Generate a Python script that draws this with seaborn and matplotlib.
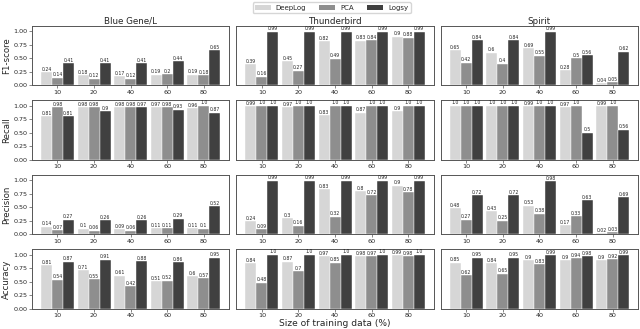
import matplotlib
matplotlib.use("Agg")
import matplotlib.pyplot as plt
from matplotlib.patches import Patch
import seaborn as sns
import pandas as pd

sizes = ["10", "20", "40", "60", "80"]
methods = ["DeepLog", "PCA", "Logsy"]
datasets = ["Blue Gene/L", "Thunderbird", "Spirit"]
metrics = ["F1-score", "Recall", "Precision", "Accuracy"]
colors = ["#d6d6d6", "#8e8e8e", "#404040"]

# Blue Gene/L
bgl_f1_deeplog = [0.24, 0.18, 0.17, 0.19, 0.19]
bgl_f1_pca = [0.14, 0.12, 0.12, 0.2, 0.18]
bgl_f1_logsy = [0.41, 0.41, 0.41, 0.44, 0.65]
bgl_rec_deeplog = [0.81, 0.98, 0.98, 0.97, 0.96]
bgl_rec_pca = [0.98, 0.98, 0.98, 0.98, 1.0]
bgl_rec_logsy = [0.81, 0.9, 0.97, 0.93, 0.87]
bgl_prec_deeplog = [0.14, 0.1, 0.09, 0.11, 0.11]
bgl_prec_pca = [0.07, 0.06, 0.06, 0.11, 0.1]
bgl_prec_logsy = [0.27, 0.26, 0.26, 0.29, 0.52]
bgl_acc_deeplog = [0.81, 0.71, 0.61, 0.51, 0.6]
bgl_acc_pca = [0.54, 0.55, 0.42, 0.52, 0.57]
bgl_acc_logsy = [0.87, 0.91, 0.88, 0.86, 0.95]

# Thunderbird
tb_f1_deeplog = [0.39, 0.45, 0.82, 0.83, 0.9]
tb_f1_pca = [0.16, 0.27, 0.49, 0.84, 0.88]
tb_f1_logsy = [0.99, 0.99, 0.99, 0.99, 0.99]
tb_rec_deeplog = [0.99, 0.97, 0.83, 0.87, 0.9]
tb_rec_pca = [1.0, 1.0, 1.0, 1.0, 1.0]
tb_rec_logsy = [1.0, 1.0, 1.0, 1.0, 1.0]
tb_prec_deeplog = [0.24, 0.3, 0.83, 0.8, 0.9]
tb_prec_pca = [0.09, 0.16, 0.32, 0.72, 0.78]
tb_prec_logsy = [0.99, 0.99, 0.99, 0.99, 0.99]
tb_acc_deeplog = [0.84, 0.87, 0.97, 0.98, 0.99]
tb_acc_pca = [0.48, 0.7, 0.85, 0.97, 0.98]
tb_acc_logsy = [1.0, 1.0, 1.0, 1.0, 1.0]

# Spirit
sp_f1_deeplog = [0.65, 0.6, 0.69, 0.28, 0.04]
sp_f1_pca = [0.42, 0.4, 0.55, 0.5, 0.05]
sp_f1_logsy = [0.84, 0.84, 0.99, 0.56, 0.62]
sp_rec_deeplog = [1.0, 1.0, 0.99, 0.97, 0.99]
sp_rec_pca = [1.0, 1.0, 1.0, 1.0, 1.0]
sp_rec_logsy = [1.0, 1.0, 1.0, 0.5, 0.56]
sp_prec_deeplog = [0.48, 0.43, 0.53, 0.17, 0.02]
sp_prec_pca = [0.27, 0.25, 0.38, 0.33, 0.03]
sp_prec_logsy = [0.72, 0.72, 0.98, 0.63, 0.69]
sp_acc_deeplog = [0.85, 0.84, 0.9, 0.9, 0.9]
sp_acc_pca = [0.62, 0.65, 0.83, 0.94, 0.92]
sp_acc_logsy = [0.95, 0.95, 0.99, 0.98, 0.99]

table = {
    ("Blue Gene/L", "F1-score"): [bgl_f1_deeplog, bgl_f1_pca, bgl_f1_logsy],
    ("Blue Gene/L", "Recall"): [bgl_rec_deeplog, bgl_rec_pca, bgl_rec_logsy],
    ("Blue Gene/L", "Precision"): [bgl_prec_deeplog, bgl_prec_pca, bgl_prec_logsy],
    ("Blue Gene/L", "Accuracy"): [bgl_acc_deeplog, bgl_acc_pca, bgl_acc_logsy],
    ("Thunderbird", "F1-score"): [tb_f1_deeplog, tb_f1_pca, tb_f1_logsy],
    ("Thunderbird", "Recall"): [tb_rec_deeplog, tb_rec_pca, tb_rec_logsy],
    ("Thunderbird", "Precision"): [tb_prec_deeplog, tb_prec_pca, tb_prec_logsy],
    ("Thunderbird", "Accuracy"): [tb_acc_deeplog, tb_acc_pca, tb_acc_logsy],
    ("Spirit", "F1-score"): [sp_f1_deeplog, sp_f1_pca, sp_f1_logsy],
    ("Spirit", "Recall"): [sp_rec_deeplog, sp_rec_pca, sp_rec_logsy],
    ("Spirit", "Precision"): [sp_prec_deeplog, sp_prec_pca, sp_prec_logsy],
    ("Spirit", "Accuracy"): [sp_acc_deeplog, sp_acc_pca, sp_acc_logsy],
}

sns.set_style("white")
plt.rcParams["font.family"] = ["DejaVu Sans"]

fig, axes = plt.subplots(4, 3, figsize=(6.4, 3.29), dpi=100, sharey=True)
fig.subplots_adjust(left=0.05, right=0.997, top=0.921, bottom=0.062,
                    hspace=0.26, wspace=0.036)

for c, ds in enumerate(datasets):
    for r, met in enumerate(metrics):
        ax = axes[r, c]
        series = table[(ds, met)]
        rows = []
        for m, vals in zip(methods, series):
            for s, v in zip(sizes, vals):
                rows.append({"size": s, "method": m, "value": v})
        df = pd.DataFrame(rows)
        sns.barplot(data=df, x="size", y="value", hue="method", order=sizes,
                    hue_order=methods, palette=colors, width=0.9, ax=ax,
                    legend=False, edgecolor="white", linewidth=0.3, saturation=1)
        for cont, vals in zip(ax.containers, series):
            ax.bar_label(cont, labels=[str(v) for v in vals], fontsize=3.3,
                         padding=0.3, color="#222222")
        ax.set_xlim(-0.695, 4.695)
        ax.set_ylim(0, 1.1)
        ax.set_yticks([0, 0.25, 0.5, 0.75, 1.0])
        ax.set_xlabel("")
        ax.set_ylabel(met if c == 0 else "", fontsize=6.2, labelpad=1.5)
        for sp in ax.spines.values():
            sp.set_linewidth(0.7)
            sp.set_color("#555555")
        ax.tick_params(axis="both", labelsize=4.6, length=2, width=0.5, pad=1.2,
                       color="#555555")
        if c != 0:
            ax.tick_params(axis="y", left=False, labelleft=False)
        else:
            ax.tick_params(axis="y", left=True)
        ax.tick_params(axis="x", bottom=True)
        if r == 0:
            ax.set_title(ds, fontsize=6.3, pad=1.5)

axes[3, 1].set_xlabel("Size of training data (%)", fontsize=6.6, labelpad=0.5)

handles = [Patch(facecolor=col, edgecolor="none") for col in colors]
fig.legend(handles, methods, loc="upper center", bbox_to_anchor=(0.518, 1.003),
           ncol=3, fontsize=5, frameon=True, handlelength=2.3, columnspacing=1.9,
           borderpad=0.35, handletextpad=0.7, handleheight=0.7)

fig.savefig("out.png", dpi=100)
